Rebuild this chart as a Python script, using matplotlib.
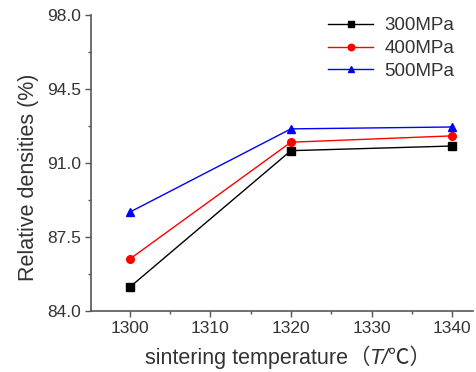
import matplotlib
matplotlib.use("Agg")
import matplotlib.pyplot as plt
from matplotlib.ticker import MultipleLocator
from matplotlib.offsetbox import TextArea, HPacker, AnchoredOffsetbox

temps = [1300, 1320, 1340]
series_names = ["300MPa", "400MPa", "500MPa"]
d300 = [85.12, 91.58, 91.80]
d400 = [86.45, 91.98, 92.28]
d500 = [88.67, 92.61, 92.70]
yticks = [84.0, 87.5, 91.0, 94.5, 98.0]
xticks = [1300, 1310, 1320, 1330, 1340]

plt.rcParams['font.family'] = ['Liberation Sans', 'Noto Sans CJK SC', 'DejaVu Sans']

TXT = "#333333"
fig = plt.figure(figsize=(4.76, 3.72), dpi=100)
ax = fig.add_axes([0.191, 0.164, 0.803, 0.796])

styles = [("black", "s"), ("red", "o"), ("blue", "^")]
for vals, name, (c, m) in zip([d300, d400, d500], series_names, styles):
    ax.plot(temps, vals, color=c, marker=m, markersize=5.5, linewidth=1.0, label=name)

ax.set_xlim(1295.2, 1342.6)
ax.set_ylim(84.0, 98.0)
ax.set_yticks(yticks)
ax.set_yticklabels([f"{v:.1f}" for v in yticks])
ax.set_xticks(xticks)
ax.xaxis.set_minor_locator(MultipleLocator(5))
ax.yaxis.set_minor_locator(MultipleLocator(1.75))

for s in ["top", "right"]:
    ax.spines[s].set_visible(False)
for s in ["left", "bottom"]:
    ax.spines[s].set_color("#555555")
    ax.spines[s].set_linewidth(1.2)

ax.tick_params(which="major", direction="out", length=4, width=1, colors="#555555",
               labelcolor=TXT, labelsize=12.5, pad=3)
ax.tick_params(which="minor", direction="out", length=2.5, width=1, colors="#555555")

ax.set_ylabel("Relative densities (%)", fontsize=15.5, color=TXT)
ax.yaxis.set_label_coords(-0.137, 0.453)

fs = 15.5
parts = [
    TextArea("sintering temperature", textprops=dict(fontsize=fs, color=TXT, family=['Liberation Sans'])),
    TextArea("（", textprops=dict(fontsize=fs, color=TXT, family=['Noto Sans CJK SC'])),
    TextArea("T/", textprops=dict(fontsize=fs, color=TXT, family=['Liberation Sans'], style='italic')),
    TextArea("℃）", textprops=dict(fontsize=fs, color=TXT, family=['Noto Sans CJK SC'])),
]
box = HPacker(children=parts, sep=0, pad=0, align="baseline")
anch = AnchoredOffsetbox(loc="center", child=box, pad=0, borderpad=0, frameon=False,
                         bbox_to_anchor=(288 / 476, 1 - 358 / 372),
                         bbox_transform=fig.transFigure)
fig.add_artist(anch)

leg = ax.legend(loc="upper right", frameon=False, fontsize=13.5, handlelength=2.4,
                labelspacing=0.3, borderaxespad=0.0, handletextpad=0.6, markerscale=0.85,
                bbox_to_anchor=(0.971, 1.017))
for t in leg.get_texts():
    t.set_color(TXT)

fig.savefig("out.png", dpi=100)
